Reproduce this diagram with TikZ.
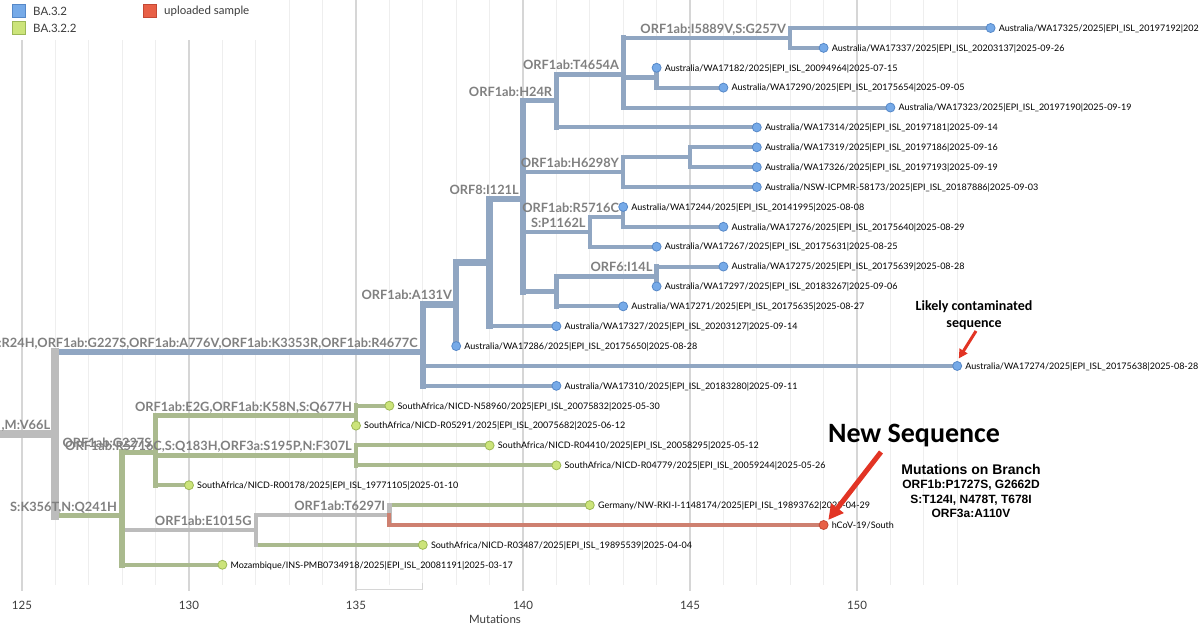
\documentclass[tikz,border=0pt]{standalone}
\usepackage{fontspec}
\setmainfont{Lato}
\newfontfamily\carl{Carlito}
\newfontfamily\arialf{Liberation Sans}
\usetikzlibrary{arrows.meta}
\definecolor{bluebr}{RGB}{144,166,194}
\definecolor{greenbr}{RGB}{170,186,142}
\definecolor{graybr}{RGB}{188,188,188}
\definecolor{redbr}{RGB}{206,128,112}
\definecolor{bluedot}{RGB}{118,170,232}
\definecolor{bluedotline}{RGB}{86,136,200}
\definecolor{greendot}{RGB}{204,228,122}
\definecolor{greendotline}{RGB}{156,184,86}
\definecolor{reddot}{RGB}{232,96,70}
\definecolor{reddotline}{RGB}{196,72,52}
\definecolor{labgray}{RGB}{128,128,128}
\definecolor{gridminor}{RGB}{238,238,238}
\definecolor{gridmajor}{RGB}{214,214,214}
\definecolor{arrowred}{RGB}{226,52,36}
\definecolor{legtext}{RGB}{60,60,60}
\newcommand\mutx[1]{22+(#1-125)*33.4}
\newcommand\rowy[1]{28+(#1-1)*19.88}
\newcommand\leafpos[2]{\coordinate (L#1) at ({\mutx{#2}},{\rowy{#1}});}
\newcommand\leafdot[3]{\node[#2] (D#1) at (L#1) {};
  \node[leaflab] (T#1) at ([shift={(8,3.3)}]L#1) {#3};}
\newcommand\inode[3]{\coordinate (#1) at ({\mutx{#2}},{\rowy{#3}});}
\begin{document}
\begin{tikzpicture}[x=1pt,y=-1pt,
  bbr/.style={draw=bluebr,line cap=rect},
  gbr/.style={draw=greenbr,line cap=rect},
  ybr/.style={draw=graybr,line cap=rect},
  rbr/.style={draw=redbr,line cap=rect},
  wroot/.style={line width=8pt},
  wbig/.style={line width=6.5pt},
  wmid/.style={line width=5.5pt},
  wsml/.style={line width=5pt},
  wtwo/.style={line width=4.5pt},
  wleaf/.style={line width=4pt},
  dotbase/.style={circle,line width=0.8pt,minimum size=9pt,inner sep=0pt},
  bdot/.style={dotbase,fill=bluedot,draw=bluedotline},
  gdot/.style={dotbase,fill=greendot,draw=greendotline},
  rdot/.style={dotbase,fill=reddot,draw=reddotline},
  leaflab/.style={font=\fontsize{9}{9}\selectfont,inner sep=0pt,text=black,anchor=base west},
  blab/.style={font=\bfseries\fontsize{12.8}{12.8}\selectfont,text=labgray,inner sep=0pt,anchor=base east},
  ticklab/.style={font=\fontsize{11.5}{11.5}\selectfont,text=legtext,inner sep=0pt,anchor=base},
  legtxt/.style={font=\fontsize{11.5}{11.5}\selectfont,text=legtext,inner sep=0pt,anchor=west},
  legbox/.style={minimum size=13pt,inner sep=0pt,line width=0.8pt},
  annot/.style={font=\carl\bfseries\fontsize{14}{17}\selectfont,align=center,inner sep=0pt},
  mutlab/.style={inner sep=0pt,anchor=base},
  redarrow/.style={draw=arrowred,line cap=butt},
]
\useasboundingbox (0,0) rectangle (1200,631);
\clip (0,0) rectangle (1200,631);
\fill[white] (0,0) rectangle (1200,631);
% grid
\foreach \m in {125,...,153}{
  \pgfmathtruncatemacro\mm{mod(\m,5)}
  \ifnum\mm=0
    \draw[draw=gridmajor,line width=1.6pt] ({\mutx{\m}},0) -- ({\mutx{\m}},591);
  \else
    \draw[draw=gridminor,line width=1pt] ({\mutx{\m}},0) -- ({\mutx{\m}},585);
  \fi
}
\draw[draw=gridmajor,line width=1pt] ({\mutx{135}},589) -- ({\mutx{137}},589) -- ({\mutx{137}},583);
% legend
\fill[white] (0,0) rectangle (275,40);
\node[legbox,fill=bluedot,draw=bluedotline] (lg1) at (19,10.5) {};
\node[legtxt] (lt1) at (33,11) {BA.3.2};
\node[legbox,fill=greendot,draw=greendotline] (lg2) at (19,28) {};
\node[legtxt] (lt2) at (33,28.5) {BA.3.2.2};
\node[legbox,fill=reddot,draw=reddotline] (lg3) at (150,10.5) {};
\node[legtxt] (lt3) at (164,11) {uploaded sample};
% axis
\foreach \m in {125,130,...,150}{
  \node[ticklab] (tk\m) at ({\mutx{\m}},609) {\m};
}
\node[ticklab] (axname) at (495,623) {Mutations};
% leaf positions
\leafpos{1}{154}\leafpos{2}{149}\leafpos{3}{144}\leafpos{4}{146}
\leafpos{5}{151}\leafpos{6}{147}\leafpos{7}{147}\leafpos{8}{147}
\leafpos{9}{147}\leafpos{10}{143}\leafpos{11}{146}\leafpos{12}{144}
\leafpos{13}{146}\leafpos{14}{144}\leafpos{15}{143}\leafpos{16}{141}
\leafpos{17}{138}\leafpos{18}{153}\leafpos{19}{141}\leafpos{20}{136}
\leafpos{21}{135}\leafpos{22}{139}\leafpos{23}{141}\leafpos{24}{130}
\leafpos{25}{142}\leafpos{26}{149}\leafpos{27}{137}\leafpos{28}{131}
% internal nodes
\inode{R}{126}{21.41}
\coordinate (R0) at (2,{\rowy{21.41}});
\inode{N137}{137}{17.30}
\inode{N138}{138}{14.901}
\inode{N139}{139}{12.802}
\inode{N140}{140}{9.604}
\inode{N141a}{141}{4.667}
\inode{N143a}{143}{3.333}
\inode{N148}{148}{1.5}
\inode{N144a}{144}{3.5}
\inode{N143b}{143}{8.25}
\inode{N145}{145}{7.5}
\inode{N142}{142}{11.25}
\inode{N143c}{143}{10.5}
\inode{N141b}{141}{14.25}
\inode{N144c}{144}{13.5}
\inode{N128}{128}{25.53}
\inode{N129}{129}{22.333}
\inode{N135a}{135}{20.5}
\inode{N135b}{135}{22.5}
\inode{N132}{132}{26.25}
\inode{N136}{136}{25.5}
% ---- horizontal branches
\draw[ybr,wroot] (R0) -- (R);
\draw[bbr,wbig] (R|-N137) -- (N137);
\draw[gbr,wmid] (R|-N128) -- (N128);
\draw[bbr,wbig] (N137|-N138) -- (N138);
\draw[bbr,wleaf] (N137|-L18) -- (L18);
\draw[bbr,wleaf] (N137|-L19) -- (L19);
\draw[bbr,wbig] (N138|-N139) -- (N139);
\draw[bbr,wbig] (N139|-N140) -- (N140);
\draw[bbr,wleaf] (N139|-L16) -- (L16);
\draw[bbr,wsml] (N140|-N141a) -- (N141a);
\draw[bbr,wtwo] (N140|-N143b) -- (N143b);
\draw[bbr,wtwo] (N140|-N142) -- (N142);
\draw[bbr,wtwo] (N140|-N141b) -- (N141b);
\draw[bbr,wsml] (N141a|-N143a) -- (N143a);
\draw[bbr,wleaf] (N141a|-L6) -- (L6);
\draw[bbr,wtwo] (N143a|-N148) -- (N148);
\draw[bbr,wtwo] (N143a|-N144a) -- (N144a);
\draw[bbr,wleaf] (N143a|-L5) -- (L5);
\draw[bbr,wleaf] (N148|-L1) -- (L1);
\draw[bbr,wleaf] (N148|-L2) -- (L2);
\draw[bbr,wleaf] (N144a|-L4) -- (L4);
\draw[bbr,wtwo] (N143b|-N145) -- (N145);
\draw[bbr,wleaf] (N143b|-L9) -- (L9);
\draw[bbr,wleaf] (N145|-L7) -- (L7);
\draw[bbr,wleaf] (N145|-L8) -- (L8);
\draw[bbr,wtwo] (N142|-N143c) -- (N143c);
\draw[bbr,wleaf] (N142|-L12) -- (L12);
\draw[bbr,wleaf] (N143c|-L11) -- (L11);
\draw[bbr,wtwo] (N141b|-N144c) -- (N144c);
\draw[bbr,wleaf] (N141b|-L15) -- (L15);
\draw[bbr,wleaf] (N144c|-L13) -- (L13);
\draw[gbr,wsml] (N128|-N129) -- (N129);
\draw[ybr,wtwo] (N128|-N132) -- (N132);
\draw[gbr,wleaf] (N128|-L28) -- (L28);
\draw[gbr,wtwo] (N129|-N135a) -- (N135a);
\draw[gbr,wtwo] (N129|-N135b) -- (N135b);
\draw[gbr,wleaf] (N129|-L24) -- (L24);
\draw[gbr,wleaf] (N135a|-L20) -- (L20);
\draw[gbr,wleaf] (N135b|-L22) -- (L22);
\draw[gbr,wleaf] (N135b|-L23) -- (L23);
\draw[ybr,wtwo] (N132|-N136) -- (N136);
\draw[gbr,wleaf] (N132|-L27) -- (L27);
\draw[gbr,wleaf] (N136|-L25) -- (L25);
% ---- vertical branches
\draw[ybr,wroot] (R|-N137) -- (R|-N128);
\draw[bbr,wbig] (N137|-N138) -- (N137|-L19);
\draw[bbr,wbig] (N138|-N139) -- (N138|-L17);
\draw[bbr,wbig] (N139|-N140) -- (N139|-L16);
\draw[bbr,wbig] (N140|-N141a) -- (N140|-N141b);
\draw[bbr,wsml] (N141a|-N143a) -- (N141a|-L6);
\draw[bbr,wsml] (N143a|-N148) -- (N143a|-L5);
\draw[bbr,wtwo] (N148|-L1) -- (N148|-L2);
\draw[bbr,wtwo] (N144a|-L3) -- (N144a|-L4);
\draw[bbr,wtwo] (N143b|-N145) -- (N143b|-L9);
\draw[bbr,wtwo] (N145|-L7) -- (N145|-L8);
\draw[bbr,wtwo] (N142|-N143c) -- (N142|-L12);
\draw[bbr,wtwo] (N143c|-L10) -- (N143c|-L11);
\draw[bbr,wtwo] (N141b|-N144c) -- (N141b|-L15);
\draw[bbr,wtwo] (N144c|-L13) -- (N144c|-L14);
\draw[gbr,wmid] (N128|-N129) -- (N128|-L28);
\draw[gbr,wsml] (N129|-N135a) -- (N129|-L24);
\draw[gbr,wtwo] (N135a|-L20) -- (N135a|-L21);
\draw[gbr,wtwo] (N135b|-L22) -- (N135b|-L23);
\draw[ybr,wtwo] (N132|-N136) -- (N132|-L27);
\draw[ybr,wtwo] (N136|-L25) -- (N136|-L26);
\draw[rbr,wleaf] (N136) -- (N136|-L26) -- (L26);
% ---- branch labels
\node[blab] (bl0) at ([shift={(-5,-4.5)}]R) {,M:V66L};
\node[blab] (bl1) at ([shift={(-5,-4.5)}]N137) {:R24H,ORF1ab:G227S,ORF1ab:A776V,ORF1ab:K3353R,ORF1ab:R4677C};
\node[blab] (bl2) at ([shift={(-4,-4.5)}]N138) {ORF1ab:A131V};
\node[blab] (bl3) at ([shift={(-4,-4.5)}]N140) {ORF8:I121L};
\node[blab] (bl4) at ([shift={(-4,-4.5)}]N141a) {ORF1ab:H24R};
\node[blab] (bl5) at ([shift={(-4,-4.5)}]N143a) {ORF1ab:T4654A};
\node[blab] (bl6) at ([shift={(-4,-4.5)}]N148) {ORF1ab:I5889V,S:G257V};
\node[blab] (bl7) at ([shift={(-4,-4.5)}]N143b) {ORF1ab:H6298Y};
\node[blab] (bl8) at ([shift={(-4,-4.5)}]N142) {S:P1162L};
\node[blab] (bl9) at ([shift={(-4,-4.5)}]N143c) {ORF1ab:R5716C};
\node[blab] (bl10) at ([shift={(-4,-4.5)}]N144c) {ORF6:I14L};
\node[blab] (bl11) at ([shift={(-5,-4.5)}]N128) {S:K356T,N:Q241H};
\node[blab] (bl12) at ([shift={(-4,-4.5)}]N129) {ORF1ab:G227S};
\node[blab] (bl13) at ([shift={(-4,-4.5)}]N135a) {ORF1ab:E2G,ORF1ab:K58N,S:Q677H};
\node[blab] (bl14) at ([shift={(-4,-4.5)}]N135b) {ORF1ab:R5716C,S:Q183H,ORF3a:S195P,N:F307L};
\node[blab] (bl15) at ([shift={(-4,-4.5)}]N132) {ORF1ab:E1015G};
\node[blab] (bl16) at ([shift={(-4,-4.5)}]N136) {ORF1ab:T6297I};
% ---- dots and leaf labels
\leafdot{1}{bdot}{Australia/WA17325/2025|EPI\_ISL\_20197192|202}
\leafdot{2}{bdot}{Australia/WA17337/2025|EPI\_ISL\_20203137|2025-09-26}
\leafdot{3}{bdot}{Australia/WA17182/2025|EPI\_ISL\_20094964|2025-07-15}
\leafdot{4}{bdot}{Australia/WA17290/2025|EPI\_ISL\_20175654|2025-09-05}
\leafdot{5}{bdot}{Australia/WA17323/2025|EPI\_ISL\_20197190|2025-09-19}
\leafdot{6}{bdot}{Australia/WA17314/2025|EPI\_ISL\_20197181|2025-09-14}
\leafdot{7}{bdot}{Australia/WA17319/2025|EPI\_ISL\_20197186|2025-09-16}
\leafdot{8}{bdot}{Australia/WA17326/2025|EPI\_ISL\_20197193|2025-09-19}
\leafdot{9}{bdot}{Australia/NSW-ICPMR-58173/2025|EPI\_ISL\_20187886|2025-09-03}
\leafdot{10}{bdot}{Australia/WA17244/2025|EPI\_ISL\_20141995|2025-08-08}
\leafdot{11}{bdot}{Australia/WA17276/2025|EPI\_ISL\_20175640|2025-08-29}
\leafdot{12}{bdot}{Australia/WA17267/2025|EPI\_ISL\_20175631|2025-08-25}
\leafdot{13}{bdot}{Australia/WA17275/2025|EPI\_ISL\_20175639|2025-08-28}
\leafdot{14}{bdot}{Australia/WA17297/2025|EPI\_ISL\_20183267|2025-09-06}
\leafdot{15}{bdot}{Australia/WA17271/2025|EPI\_ISL\_20175635|2025-08-27}
\leafdot{16}{bdot}{Australia/WA17327/2025|EPI\_ISL\_20203127|2025-09-14}
\leafdot{17}{bdot}{Australia/WA17286/2025|EPI\_ISL\_20175650|2025-08-28}
\leafdot{18}{bdot}{Australia/WA17274/2025|EPI\_ISL\_20175638|2025-08-28}
\leafdot{19}{bdot}{Australia/WA17310/2025|EPI\_ISL\_20183280|2025-09-11}
\leafdot{20}{gdot}{SouthAfrica/NICD-N58960/2025|EPI\_ISL\_20075832|2025-05-30}
\leafdot{21}{gdot}{SouthAfrica/NICD-R05291/2025|EPI\_ISL\_20075682|2025-06-12}
\leafdot{22}{gdot}{SouthAfrica/NICD-R04410/2025|EPI\_ISL\_20058295|2025-05-12}
\leafdot{23}{gdot}{SouthAfrica/NICD-R04779/2025|EPI\_ISL\_20059244|2025-05-26}
\leafdot{24}{gdot}{SouthAfrica/NICD-R00178/2025|EPI\_ISL\_19771105|2025-01-10}
\leafdot{25}{gdot}{Germany/NW-RKI-I-1148174/2025|EPI\_ISL\_19893762|2025-04-29}
\leafdot{26}{rdot}{hCoV-19/South}
\leafdot{27}{gdot}{SouthAfrica/NICD-R03487/2025|EPI\_ISL\_19895539|2025-04-04}
\leafdot{28}{gdot}{Mozambique/INS-PMB0734918/2025|EPI\_ISL\_20081191|2025-03-17}
% ---- annotations
\node[annot] (lik) at (974,315) {Likely contaminated\\sequence};
\coordinate (a1s) at (976,331);
\draw[redarrow,line width=3pt,-{Triangle[length=9pt,width=9pt]},shorten >=3pt] (a1s) -- (D18.north);
\node[font=\carl\bfseries\fontsize{28}{28}\selectfont,inner sep=0pt,anchor=base] (newseq) at (914,442) {New Sequence};
\coordinate (a2s) at (881,452);
\draw[redarrow,line width=5pt,-{Triangle[length=15pt,width=15pt]},shorten >=2pt] (a2s) -- (D26.north east);
\node[mutlab,font=\arialf\bfseries\fontsize{14}{14}\selectfont] (mt1) at (971,474) {Mutations on Branch};
\node[mutlab,font=\arialf\bfseries\fontsize{12}{12}\selectfont] (mt2) at (971,488.5) {ORF1b:P1727S, G2662D};
\node[mutlab,font=\arialf\bfseries\fontsize{12}{12}\selectfont] (mt3) at (971,503) {S:T124I, N478T, T678I};
\node[mutlab,font=\arialf\bfseries\fontsize{12}{12}\selectfont] (mt4) at (971,517.5) {ORF3a:A110V};
\end{tikzpicture}
\end{document}
